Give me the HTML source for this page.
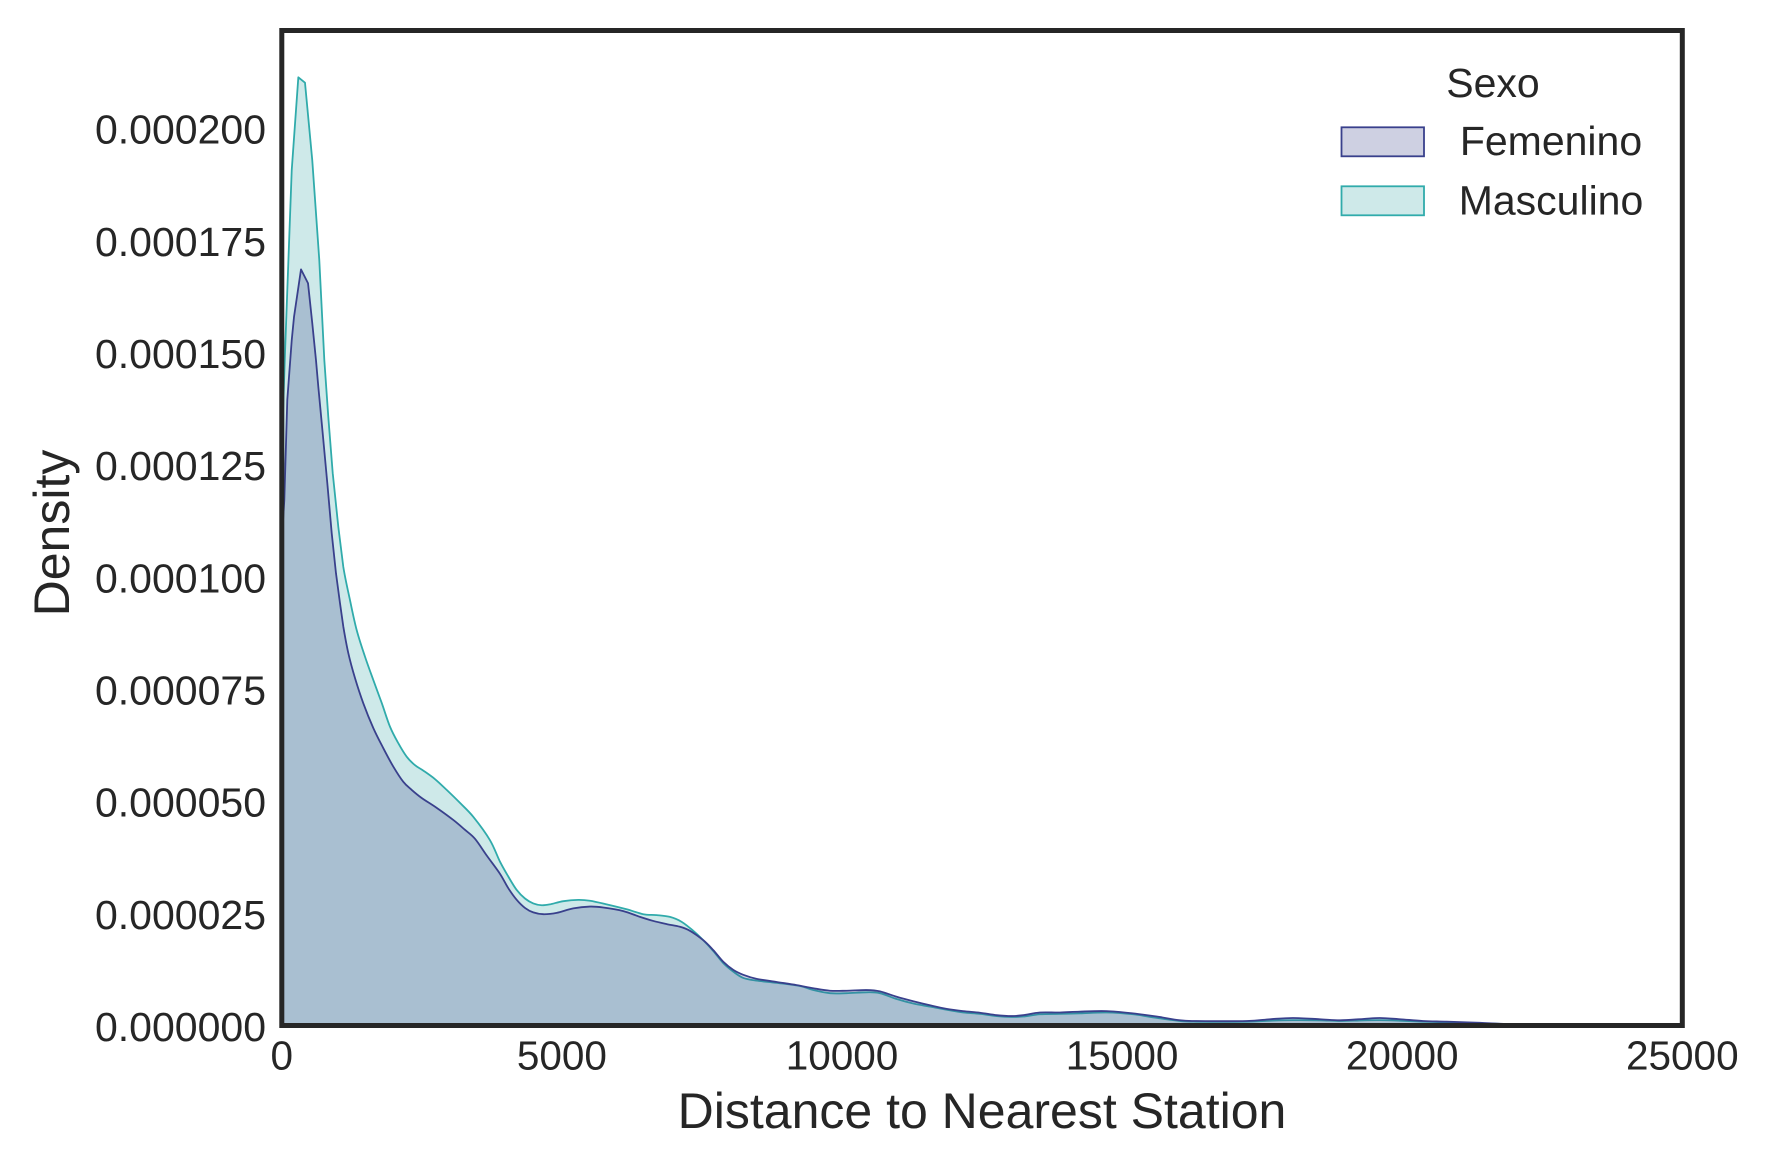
<!DOCTYPE html>
<html lang="en">
<head>
<meta charset="utf-8">
<title>Distance to Nearest Station density by Sexo</title>
<style>
  html, body { margin: 0; padding: 0; background: #ffffff; }
  svg { display: block; font-family: "Liberation Sans", Arial, sans-serif; fill: #262626; }
  .tick { font-size: 40.5px; }
  .y-tick { font-size: 41px; }
  .axis-title { font-size: 50px; }
  .legend-text { font-size: 41px; }
</style>
</head>
<body>
<svg id="chart" xmlns="http://www.w3.org/2000/svg" width="1769" height="1170" viewBox="0 0 1769 1170">
  <rect x="0" y="0" width="1769" height="1170" fill="#ffffff"/>
  <defs>
    <clipPath id="plot-clip"><rect x="281.8" y="30.5" width="1400.5" height="995"/></clipPath>
  </defs>
  <g id="marks" clip-path="url(#plot-clip)"></g>
  <rect x="281.8" y="30.5" width="1400.5" height="995" fill="none" stroke="#262626" stroke-width="5"/>
  <g id="y-ticks"></g>
  <g id="x-ticks"></g>
  <text class="axis-title" x="982" y="1128" text-anchor="middle">Distance to Nearest Station</text>
  <text class="axis-title" x="0" y="0" text-anchor="middle" transform="translate(69 533) rotate(-90)">Density</text>
  <g>
    <text class="legend-text" x="1493" y="97" text-anchor="middle">Sexo</text>
    <rect x="1341.5" y="127.3" width="82.5" height="29" fill="#3b438b" fill-opacity="0.25" stroke="#39408c" stroke-width="1.8"/>
    <text class="legend-text" x="1551" y="155" text-anchor="middle">Femenino</text>
    <rect x="1341.5" y="186.3" width="82.5" height="29" fill="#3ba7a7" fill-opacity="0.25" stroke="#30abab" stroke-width="1.8"/>
    <text class="legend-text" x="1551" y="214.5" text-anchor="middle">Masculino</text>
  </g>
</svg>
<script>
const xTickValues = [0, 5000, 10000, 15000, 20000, 25000];
const yTickValues = [0, 0.000025, 0.00005, 0.000075, 0.0001, 0.000125, 0.00015, 0.000175, 0.0002];

const masculinoDistance = [0,57,177,295,414,544,669,759,830,909,1009,1098,1217,1337,1485,1633,1783,1931,2080,2229,2378,2526,2735,2943,3181,3418,3716,3895,4043,4193,4341,4489,4639,4787,5025,5292,5501,5799,6156,6453,6692,6929,7138,7345,7524,7702,7881,8059,8238,8477,8834,9250,9487,9785,10083,10440,10678,10976,11272,11570,11869,12165,12463,12761,13029,13236,13534,13891,14248,14725,15194,15617,16033,16331,17224,17640,18050,18532,18890,19300,19603,19960,20370,20793,21387,21976,23530];
const masculinoDensity = [0.0001282,0.0001498,0.0001906,0.0002113,0.0002101,0.0001928,0.0001706,0.0001483,0.0001356,0.0001231,0.0001111,0.0001022,0.0000948,0.0000881,0.0000822,0.000077,0.0000719,0.0000666,0.0000629,0.0000599,0.000058,0.0000568,0.0000549,0.0000525,0.0000496,0.0000465,0.0000413,0.0000365,0.0000332,0.0000302,0.0000283,0.0000272,0.0000268,0.000027,0.0000277,0.000028,0.0000278,0.000027,0.0000259,0.0000248,0.0000246,0.0000242,0.0000231,0.0000211,0.000019,0.0000166,0.0000139,0.000012,0.0000106,0.00001,0.0000095,0.0000088,0.0000079,0.0000072,0.0000072,0.0000074,0.0000072,0.0000059,0.0000049,0.0000042,0.0000035,0.0000029,0.0000026,0.0000021,0.0000019,0.000002,0.0000025,0.0000026,0.0000027,0.0000029,0.0000025,0.0000017,0.000001,0.00000085,0.00000085,0.00000107,0.0000012,0.00000116,0.000001,0.00000116,0.0000012,0.00000107,0.00000085,0.0000007,0.0000005,0.0000003,0.00000005];

const femeninoDistance = [0,45,98,177,218,343,468,544,610,652,730,812,891,967,1039,1098,1187,1307,1455,1633,1812,1990,2169,2319,2497,2765,3061,3270,3449,3663,3895,4043,4193,4341,4489,4668,4907,5203,5501,5739,6096,6394,6631,6871,7108,7286,7524,7702,7881,8059,8238,8477,8834,9191,9487,9785,10083,10440,10678,10976,11272,11570,11869,12165,12463,12761,13029,13236,13534,13891,14248,14725,15194,15617,16033,16331,17224,17640,18050,18532,18890,19300,19603,19960,20370,20793,21387,21976,23530];
const femeninoDensity = [0.0001082,0.0001171,0.0001394,0.0001527,0.0001579,0.0001685,0.0001654,0.0001565,0.0001483,0.0001423,0.000132,0.0001209,0.0001097,0.0001008,0.0000941,0.0000889,0.000083,0.0000774,0.0000718,0.0000663,0.0000618,0.0000577,0.0000543,0.0000525,0.0000507,0.0000485,0.0000458,0.0000436,0.0000416,0.0000378,0.0000338,0.0000306,0.000028,0.0000262,0.0000252,0.0000248,0.0000251,0.0000261,0.0000265,0.0000263,0.0000255,0.0000242,0.0000233,0.0000226,0.000022,0.0000211,0.000019,0.0000168,0.0000142,0.0000124,0.0000113,0.0000104,0.0000097,0.000009,0.0000083,0.00000775,0.00000775,0.0000079,0.0000076,0.0000064,0.0000054,0.0000045,0.0000037,0.0000032,0.00000285,0.0000023,0.0000021,0.0000023,0.0000029,0.0000029,0.0000031,0.0000032,0.0000027,0.000002,0.00000116,0.000001,0.000001,0.0000014,0.00000167,0.0000014,0.00000116,0.00000145,0.00000167,0.0000014,0.000001,0.00000085,0.0000006,0.0000003,0.00000005];

const xAxis = { domainMin: 0, domainMax: 25000, rangeMin: 281.8, rangeMax: 1682.3 };
const yAxis = { domainMin: 0, domainMax: 0.0002, rangeMin: 1025.5, rangeMax: 128 };
const polylineUntil = 1100;

function scaleX(value) {
  return xAxis.rangeMin + (value - xAxis.domainMin) / (xAxis.domainMax - xAxis.domainMin) * (xAxis.rangeMax - xAxis.rangeMin);
}
function scaleY(value) {
  return yAxis.rangeMin + (value - yAxis.domainMin) / (yAxis.domainMax - yAxis.domainMin) * (yAxis.rangeMax - yAxis.rangeMin);
}

const SVG_NS = 'http://www.w3.org/2000/svg';

function curvePath(xs, ys) {
  const px = xs.map(scaleX);
  const py = ys.map(scaleY);
  let d = 'M' + px[0].toFixed(2) + ' ' + py[0].toFixed(2);
  for (let i = 1; i < px.length; i++) {
    if (xs[i] <= polylineUntil) {
      d += ' L' + px[i].toFixed(2) + ' ' + py[i].toFixed(2);
    } else {
      const a = Math.max(i - 2, 0);
      const b = Math.min(i + 1, px.length - 1);
      const c1x = px[i - 1] + (px[i] - px[a]) / 6;
      const c1y = py[i - 1] + (py[i] - py[a]) / 6;
      const c2x = px[i] - (px[b] - px[i - 1]) / 6;
      const c2y = py[i] - (py[b] - py[i - 1]) / 6;
      d += ' C' + c1x.toFixed(2) + ' ' + c1y.toFixed(2) + ' ' + c2x.toFixed(2) + ' ' + c2y.toFixed(2) + ' ' + px[i].toFixed(2) + ' ' + py[i].toFixed(2);
    }
  }
  return d;
}

function drawSeries(group, key, xs, ys, fillColor, lineColor) {
  const line = curvePath(xs, ys);
  const area = document.createElementNS(SVG_NS, 'path');
  area.setAttribute('d', line + ' L' + scaleX(xs[xs.length - 1]).toFixed(2) + ' ' + scaleY(0).toFixed(2) + ' L' + scaleX(xs[0]).toFixed(2) + ' ' + scaleY(0).toFixed(2) + ' Z');
  area.setAttribute('fill', fillColor);
  area.setAttribute('fill-opacity', '0.25');
  area.setAttribute('stroke', 'none');
  
  
  group.appendChild(area);

  const curve = document.createElementNS(SVG_NS, 'path');
  curve.setAttribute('d', line);
  curve.setAttribute('fill', 'none');
  curve.setAttribute('stroke', lineColor);
  curve.setAttribute('stroke-width', '1.8');
  curve.setAttribute('stroke-linejoin', 'round');
  
  
  group.appendChild(curve);
}

const marks = document.getElementById('marks');
drawSeries(marks, 'masculino', masculinoDistance, masculinoDensity, '#3ba7a7', '#30abab');
drawSeries(marks, 'femenino', femeninoDistance, femeninoDensity, '#3b438b', '#39408c');

const yTickGroup = document.getElementById('y-ticks');
yTickValues.forEach(function (value) {
  const label = document.createElementNS(SVG_NS, 'text');
  label.setAttribute('class', 'y-tick');
  label.setAttribute('x', '266');
  label.setAttribute('y', (scaleY(value) + 15.6).toFixed(2));
  label.setAttribute('text-anchor', 'end');
  
  
  label.textContent = value.toFixed(6);
  yTickGroup.appendChild(label);
});

const xTickGroup = document.getElementById('x-ticks');
xTickValues.forEach(function (value) {
  const label = document.createElementNS(SVG_NS, 'text');
  label.setAttribute('class', 'tick');
  label.setAttribute('x', scaleX(value).toFixed(2));
  label.setAttribute('y', '1069.5');
  label.setAttribute('text-anchor', 'middle');
  
  
  label.textContent = String(value);
  xTickGroup.appendChild(label);
});
</script>
</body>
</html>
